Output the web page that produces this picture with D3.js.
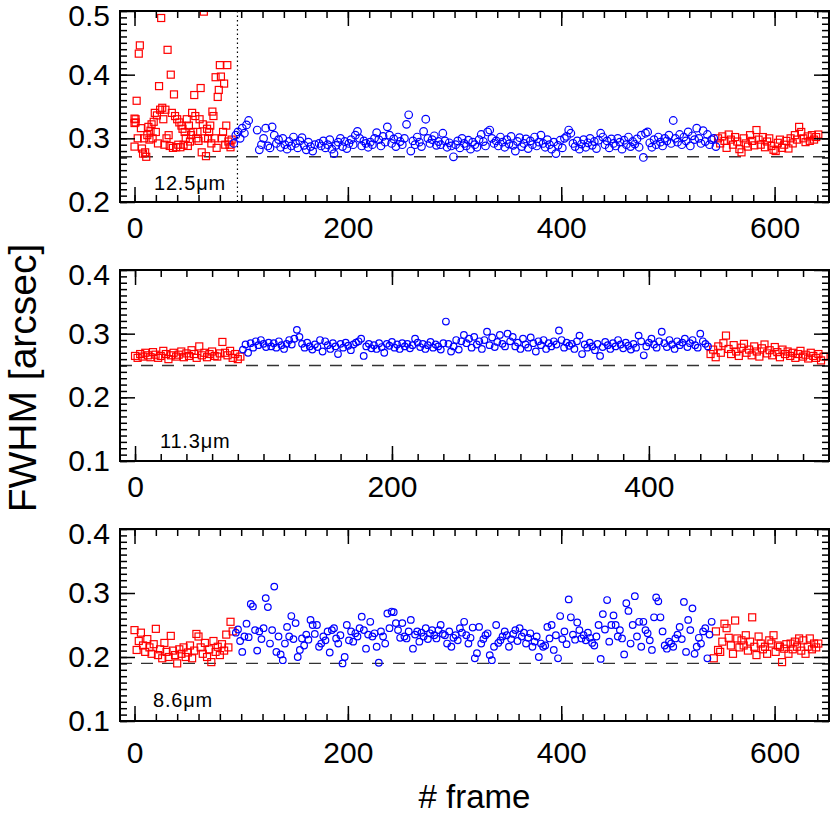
<!DOCTYPE html>
<html><head><meta charset="utf-8">
<script src="https://cdn.jsdelivr.net/npm/d3@7"></script>
<style>html,body{margin:0;padding:0;background:#fff}</style>
</head><body>
<svg id="chart" width="831" height="815"></svg>
<script>
// ---------------- DATA ----------------
const panelLabels = ["12.5\u03bcm", "11.3\u03bcm", "8.6\u03bcm"];
const thresholds = [0.271, 0.25, 0.19];
const cutFrame12 = 96.5;
const xTickValsA = [0, 200, 400, 600];
const xTickValsB = [0, 200, 400];
const yTickVals12 = [0.2, 0.3, 0.4, 0.5];
const yTickVals11 = [0.1, 0.2, 0.3, 0.4];
const yTickVals86 = [0.1, 0.2, 0.3, 0.4];
const xTitle = "# frame";
const yTitle = "FWHM [arcsec]";

// 12.5 micron
const p1RedAStart = 0, p1RedAStep = 1;
const p1RedA = [0.287,0.330,0.359,0.300,0.433,0.446,0.316,0.284,0.276,0.300,
0.278,0.271,0.305,0.318,0.298,0.312,0.322,0.300,0.326,0.340,
0.310,0.336,0.292,0.382,0.345,0.489,0.348,0.330,0.290,0.345,
0.300,0.439,0.305,0.288,0.400,0.340,0.285,0.369,0.335,0.286,
0.330,0.290,0.325,0.286,0.320,0.315,0.290,0.310,0.300,0.330,
0.288,0.320,0.295,0.305,0.340,0.310,0.368,0.335,0.300,0.310,
0.296,0.330,0.379,0.278,0.322,0.499,0.300,0.272,0.315,0.300,
0.310,0.320,0.292,0.342,0.335,0.300,0.396,0.285,0.365,0.376,
0.415,0.397,0.300,0.310,0.386,0.290,0.320,0.415,0.295,0.290,
0.286,0.298];
const p1ExtraFrames = [0, 0, 1];
const p1ExtraVals = [0.324, 0.331, 0.325];
const p1BlueStart = 93, p1BlueStep = 2;
const p1Blue = [0.292,0.305,0.310,0.300,0.316,0.308,0.321,0.328,
null,null,null,
0.313,0.282,0.290,0.300,0.316,0.288,0.285,
0.318,0.305,0.292,0.298,0.286,0.300,0.290,0.283,0.295,0.288,0.302,0.292,0.285,0.296,0.301,0.289,0.282,0.294,0.287,0.280,0.290,
null,
0.292,0.288,0.296,0.285,0.290,0.298,0.283,0.276,0.289,0.294,0.300,0.287,0.295,0.284,0.292,
0.298,0.290,0.305,0.311,0.300,0.288,0.296,0.292,0.286,
0.294,0.290,0.300,0.309,0.298,0.288,0.303,0.294,0.318,0.305,0.292,0.299,0.287,0.302,0.295,0.290,0.300,0.322,0.337,
0.280,0.296,0.290,0.302,0.294,0.287,0.311,0.330,0.300,0.292,0.298,0.304,0.289,0.295,0.290,0.308,0.296,0.286,0.293,0.288,0.271,
0.290,0.296,0.285,0.300,0.292,0.288,0.297,0.283,0.294,0.290,0.286,0.298,0.306,0.295,0.288,0.310,
0.313,0.300,0.292,0.296,0.288,0.302,0.294,0.286,0.298,0.291,0.303,0.289,
0.280,0.295,0.301,0.287,0.292,0.299,0.284,0.296,0.290,0.302,0.288,0.294,
0.305,0.292,0.286,0.298,0.290,0.283,0.294,0.276,0.289,0.297,0.285,0.300,0.303,0.313,0.308,0.292,
0.287,0.296,0.283,0.291,0.298,0.286,0.293,0.300,0.289,0.295,0.284,0.297,0.308,
0.302,0.290,0.296,0.285,0.299,0.292,0.288,0.300,0.294,0.283,0.297,0.290,0.302,0.287,0.295,0.291,0.299,0.286,0.305,
0.270,0.308,0.310,0.293,0.286,0.298,0.290,0.302,0.294,0.288,0.300,0.296,0.305,0.292,
0.328,0.300,0.294,0.306,0.290,0.302,0.296,0.310,0.288,0.304,0.298,0.316,0.300,0.292,0.312,0.295,0.306,0.290,0.298,0.300,0.287];
const p1RedBStart = 547, p1RedBStep = 2;
const p1RedB = [0.300,0.292,0.303,0.296,0.285,0.306,0.298,0.290,0.302,0.295,
0.283,0.278,0.300,0.292,0.287,0.305,0.296,0.289,0.313,0.298,
0.290,0.302,0.286,0.295,0.300,0.288,0.282,0.280,0.293,0.298,
0.285,0.290,0.296,0.284,0.300,0.292,0.305,0.298,0.318,0.310,
0.300,0.294,0.303,0.296,0.305,0.298,0.302,0.306];

// 11.3 micron
const p2RedAStart = 0, p2RedAStep = 2;
const p2RedA = [0.265,0.262,0.268,0.264,0.270,0.266,0.263,0.271,0.267,0.262,
0.265,0.273,0.268,0.260,0.266,0.270,0.264,0.267,0.272,0.263,
0.269,0.265,0.274,0.268,0.262,0.280,0.266,0.270,0.263,0.268,
0.272,0.265,0.264,0.269,0.287,0.270,0.266,0.273,0.262,0.268,
0.260,0.264];
const p2BlueStart = 84, p2BlueStep = 2;
const p2Blue = [0.275,0.283,0.270,0.285,0.278,0.288,0.282,0.290,0.284,0.279,0.286,
0.280,0.285,0.278,0.288,0.282,0.276,0.284,0.290,0.283,0.292,0.306,
0.295,0.284,0.278,0.286,0.280,0.275,0.283,0.279,0.290,0.272,0.288,
0.282,0.276,0.285,0.280,0.268,0.284,0.278,0.286,0.281,0.274,0.283,0.286,
0.288,0.292,0.265,0.280,0.284,0.277,
0.282,0.276,0.285,0.279,0.270,0.284,0.281,0.287,0.278,0.283,0.276,0.285,0.280,0.284,0.277,0.282,
0.292,0.286,0.279,0.284,0.276,0.282,0.287,0.278,0.283,0.280,0.275,0.285,
0.319,
0.284,0.272,0.280,0.290,0.275,0.288,0.298,
0.285,0.292,0.278,0.295,0.283,0.288,0.276,0.290,0.303,0.282,0.294,0.279,0.287,0.298,0.284,0.280,0.300,
0.288,0.295,0.280,0.286,0.276,0.292,0.283,0.278,0.294,0.285,0.272,0.288,
0.282,0.290,0.276,0.285,0.280,0.288,0.283,0.305,0.290,0.278,0.286,0.281,0.284,0.276,0.288,0.297,
0.268,0.283,0.278,0.286,0.280,0.274,0.284,0.265,0.279,0.287,0.282,0.276,0.285,0.280,0.290,0.283,0.277,
0.286,0.281,0.275,0.284,0.278,0.297,0.288,0.266,0.280,0.286,0.292,0.283,0.278,0.288,0.303,
0.285,0.279,0.290,0.283,0.276,0.288,0.282,0.286,0.292,0.279,0.285,0.290,0.282,0.278,0.300,0.288,0.284,0.280];
const p2RedBStart = 448, p2RedBStep = 2;
const p2RedB = [0.268,0.275,0.263,0.280,0.270,0.285,0.297,0.276,0.268,0.282,
0.272,0.265,0.278,0.284,0.270,0.275,0.266,0.280,0.272,0.264,
0.277,0.283,0.269,0.274,0.266,0.279,0.271,0.263,0.275,0.268,
0.272,0.265,0.270,0.262,0.268,0.273,0.264,0.267,0.261,0.270,
0.265,0.262,0.268,0.258,0.264];

// 8.6 micron
const p3RedAStart = 0, p3RedAStep = 2;
const p3RedA = [0.242,0.211,0.225,0.238,0.218,0.208,0.228,0.215,0.205,0.220,
0.244,0.203,0.212,0.198,0.222,0.208,0.200,0.233,0.210,0.203,
0.190,0.212,0.205,0.215,0.200,0.207,0.218,0.198,0.210,0.236,
0.232,0.215,0.205,0.222,0.200,0.212,0.192,0.225,0.208,0.216,
0.203,0.220,0.210,0.235,0.215,0.255,0.240];
const p3BlueStart = 95, p3BlueStep = 2;
const p3Blue = [0.238,0.243,0.225,0.208,0.232,0.252,0.231,0.283,0.279,0.242,
0.210,0.240,0.228,0.245,0.292,0.278,0.221,0.242,0.310,0.208,
0.232,0.204,0.195,0.221,0.247,0.232,0.264,0.228,0.253,0.200,
0.211,0.229,0.218,0.235,0.227,0.258,0.250,0.236,0.250,0.216,
0.221,0.232,0.226,0.240,0.207,0.242,0.245,0.229,0.221,0.234,
0.190,0.200,0.250,0.226,0.240,0.224,0.237,0.232,0.245,0.263,
0.242,0.213,0.235,0.255,0.232,0.237,0.216,0.191,0.240,0.232,
0.221,0.268,0.245,0.271,0.270,0.253,0.242,0.230,0.253,0.232,
0.229,0.240,0.258,0.213,0.235,0.240,0.224,0.238,0.232,0.245,
0.228,0.237,0.242,0.234,0.229,0.242,0.250,0.236,0.234,0.221,
0.240,0.216,0.230,0.234,0.226,0.245,0.238,0.255,0.234,0.221,
0.230,0.246,0.198,0.206,0.247,0.221,0.228,0.234,0.237,0.203,
0.195,0.216,0.250,0.222,0.226,0.232,0.240,0.234,0.216,0.228,
0.236,0.242,0.225,0.245,0.232,0.238,0.221,0.230,0.237,0.216,
0.224,0.232,0.200,0.221,0.216,0.218,0.247,0.229,0.250,0.211,
0.234,0.198,0.264,0.228,0.240,0.220,0.290,0.262,0.235,0.227,
0.254,0.242,0.229,0.234,0.226,0.238,0.230,0.222,0.218,0.232,
0.250,0.197,0.267,0.243,0.289,0.224,0.250,0.265,0.250,0.232,
0.242,0.229,0.204,0.284,0.272,0.221,0.250,0.295,0.232,0.255,
0.216,0.255,0.242,0.237,0.226,0.211,0.262,0.293,0.287,0.262,
0.240,0.218,0.213,0.224,0.221,0.216,0.229,0.235,0.247,0.228,
0.286,0.208,0.258,0.242,0.276,0.205,0.216,0.230,0.221,0.240,
0.245,0.198,0.235,0.255];
const p3RedBStart = 543, p3RedBStep = 2;
const p3RedB = [0.198,0.240,0.211,0.208,0.224,0.252,0.245,0.230,0.218,0.205,
0.257,0.229,0.215,0.226,0.218,0.234,0.210,0.224,0.262,0.216,
0.203,0.232,0.221,0.212,0.216,0.205,0.226,0.221,0.234,0.208,
0.218,0.216,0.192,0.213,0.220,0.205,0.221,0.212,0.224,0.216,
0.229,0.210,0.226,0.205,0.216,0.229,0.212,0.221,0.215,0.221];

// ---------------- HELPERS ----------------
function series(start, step, vals) {
  const out = [];
  vals.forEach((v, i) => { if (v !== null) out.push({f: start + i * step, v: v}); });
  return out;
}
const FONT = "'Liberation Sans', Arial, Helvetica, sans-serif";
const svg = d3.select("#chart");
const L = 120, R = 829;

const panels = [
  {top: 11, bottom: 202, xd: [-13.6, 651], yd: [0.2, 0.5], xt: xTickValsA, yt: yTickVals12,
   red: [series(p1RedAStart, p1RedAStep, p1RedA), p1ExtraFrames.map((f,i)=>({f:f, v:p1ExtraVals[i]})), series(p1RedBStart, p1RedBStep, p1RedB)],
   blue: series(p1BlueStart, p1BlueStep, p1Blue), r: 3.8, label: panelLabels[0], lx: 154, ly: 190,
   thr: thresholds[0], cut: cutFrame12, lblOff: 15},
  {top: 270, bottom: 461, xd: [-11.7, 540.2], yd: [0.1, 0.4], xt: xTickValsB, yt: yTickVals11,
   red: [series(p2RedAStart, p2RedAStep, p2RedA), series(p2RedBStart, p2RedBStep, p2RedB)],
   blue: series(p2BlueStart, p2BlueStep, p2Blue), r: 3.3, label: panelLabels[1], lx: 160, ly: 448,
   thr: thresholds[1], cut: null, lblOff: 15},
  {top: 529, bottom: 721, xd: [-13.6, 651], yd: [0.1, 0.4], xt: xTickValsA, yt: yTickVals86,
   red: [series(p3RedAStart, p3RedAStep, p3RedA), series(p3RedBStart, p3RedBStep, p3RedB)],
   blue: series(p3BlueStart, p3BlueStep, p3Blue), r: 3.3, label: panelLabels[2], lx: 153, ly: 707,
   thr: thresholds[2], cut: null, lblOff: 21}
];

panels.forEach(p => {
  const x = d3.scaleLinear().domain(p.xd).range([L, R]);
  const y = d3.scaleLinear().domain(p.yd).range([p.bottom, p.top]);
  const g = svg.append("g");
  const clipId = "clip" + p.top;
  svg.append("clipPath").attr("id", clipId).append("rect")
    .attr("x", L).attr("y", p.top).attr("width", R - L).attr("height", p.bottom - p.top);
  const plot = g.append("g").attr("clip-path", `url(#${clipId})`);

  plot.append("line").attr("x1", L).attr("x2", R).attr("y1", y(p.thr)).attr("y2", y(p.thr))
    .attr("stroke", "#333").attr("stroke-width", 1.4).attr("stroke-dasharray", "12,9");
  if (p.cut !== null) {
    plot.append("line").attr("x1", x(p.cut)).attr("x2", x(p.cut)).attr("y1", p.top).attr("y2", p.bottom)
      .attr("stroke", "#000").attr("stroke-width", 1.2).attr("stroke-dasharray", "1.5,3");
  }
  const s = 7;
  p.red.forEach(arr => {
    plot.append("g").selectAll("rect").data(arr).join("rect")
      .attr("x", d => x(d.f) - s / 2).attr("y", d => y(d.v) - s / 2)
      .attr("width", s).attr("height", s)
      .attr("fill", "none").attr("stroke", "#ff0000").attr("stroke-width", 1.2);
  });
  plot.append("g").selectAll("circle").data(p.blue).join("circle")
    .attr("cx", d => x(d.f)).attr("cy", d => y(d.v)).attr("r", p.r)
    .attr("fill", "none").attr("stroke", "#0000ff").attr("stroke-width", 1.2);

  const xMinor = d3.range(0, p.xd[1], 20);
  const yMinor = d3.range(Math.round(p.yd[0]*100), Math.round(p.yd[1]*100)+1).map(k => k/100);
  const styleAxis = sel => { sel.select(".domain").remove(); sel.selectAll("line").attr("stroke", "#000").attr("stroke-width", 1.5); };
  g.append("g").attr("transform", `translate(0,${p.bottom})`)
    .call(d3.axisBottom(x).tickValues(xMinor).tickSize(-7).tickFormat("")).call(styleAxis);
  g.append("g").attr("transform", `translate(0,${p.top})`)
    .call(d3.axisTop(x).tickValues(xMinor).tickSize(-7).tickFormat("")).call(styleAxis);
  g.append("g").attr("transform", `translate(${L},0)`)
    .call(d3.axisLeft(y).tickValues(yMinor).tickSize(-7).tickFormat("")).call(styleAxis);
  g.append("g").attr("transform", `translate(${R},0)`)
    .call(d3.axisRight(y).tickValues(yMinor).tickSize(-7).tickFormat("")).call(styleAxis);
  const xb = g.append("g").attr("transform", `translate(0,${p.bottom})`)
    .call(d3.axisBottom(x).tickValues(p.xt).tickSize(-15).tickPadding(p.lblOff).tickFormat(d3.format("d")));
  xb.call(styleAxis);
  g.append("g").attr("transform", `translate(0,${p.top})`)
    .call(d3.axisTop(x).tickValues(p.xt).tickSize(-15).tickFormat("")).call(styleAxis);
  const yl = g.append("g").attr("transform", `translate(${L},0)`)
    .call(d3.axisLeft(y).tickValues(p.yt).tickSize(-15).tickPadding(10).tickFormat(d3.format(".1f")));
  yl.call(styleAxis);
  const topVal = d3.max(p.yt);
  yl.selectAll(".tick").filter(d => d === topVal).select("text").attr("y", 5);
  g.append("g").attr("transform", `translate(${R},0)`)
    .call(d3.axisRight(y).tickValues(p.yt).tickSize(-15).tickFormat("")).call(styleAxis);
  g.selectAll("text").attr("font-family", FONT).attr("font-size", 30).attr("fill", "#000");

  g.append("rect").attr("x", L).attr("y", p.top).attr("width", R - L).attr("height", p.bottom - p.top)
    .attr("fill", "none").attr("stroke", "#000").attr("stroke-width", 2);

  g.append("text").attr("x", p.lx).attr("y", p.ly).text(p.label)
    .attr("font-family", FONT).attr("font-size", 20).attr("letter-spacing", 0.8).attr("fill", "#000");
});

svg.append("text").attr("x", (L + R) / 2).attr("y", 808).attr("text-anchor", "middle")
  .attr("font-family", FONT).attr("font-size", 33).text(xTitle);
svg.append("text").attr("transform", "translate(36,378) rotate(-90)").attr("text-anchor", "middle")
  .attr("font-family", FONT).attr("font-size", 39).text(yTitle);
</script>
</body></html>
